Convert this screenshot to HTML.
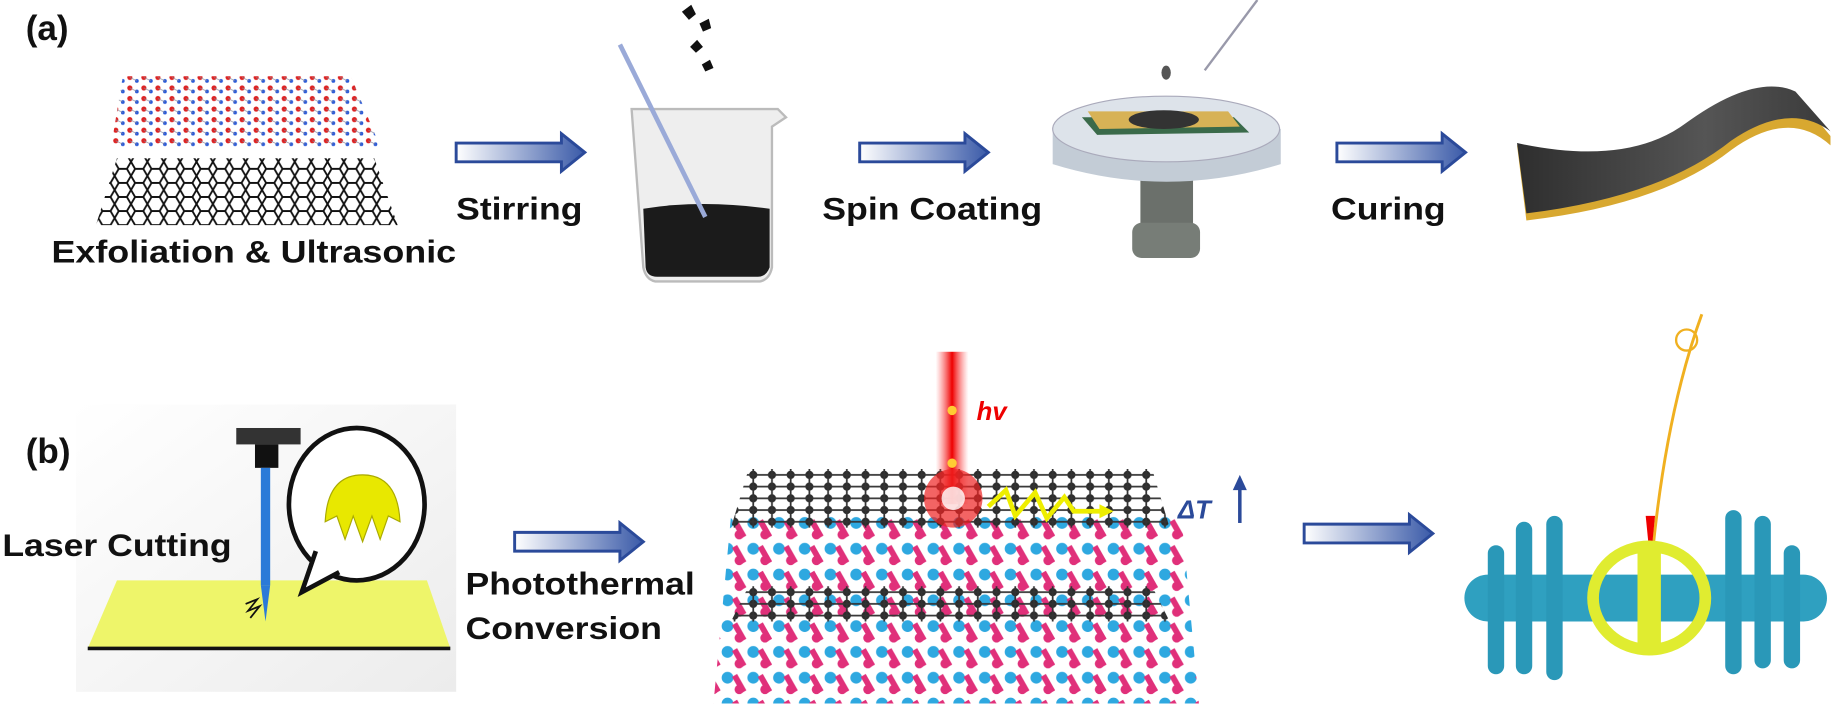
<!DOCTYPE html>
<html><head><meta charset="utf-8"><style>
html,body{margin:0;padding:0;background:#fff;width:1834px;height:727px;overflow:hidden}
svg{display:block}
text{font-family:"Liberation Sans",Arial,sans-serif;font-weight:bold;fill:#111}
</style></head><body>
<svg width="1834" height="727" viewBox="0 0 1568 620" preserveAspectRatio="none">
<defs>
<linearGradient id="ar" x1="0" x2="1"><stop offset="0" stop-color="#fff"/><stop offset="1" stop-color="#3a5aa8"/></linearGradient>
<pattern id="hex" width="14" height="12" patternUnits="userSpaceOnUse"><path d="M0 6 L3.5 0 H10.5 L14 6 L10.5 12 H3.5 Z" fill="none" stroke="#111" stroke-width="1.6"/></pattern>
<pattern id="dots" width="12" height="9" patternUnits="userSpaceOnUse"><circle cx="3" cy="3" r="2.2" fill="#d22"/><circle cx="9" cy="6" r="1.6" fill="#2a5ad8"/><path d="M3 3 L9 6" stroke="#889" stroke-width=".6"/></pattern>
<pattern id="lat" width="22" height="22" patternUnits="userSpaceOnUse"><circle cx="6" cy="6" r="5" fill="#2ea8e0"/><path d="M12 4 L20 18" stroke="#e0307a" stroke-width="5"/><circle cx="16" cy="16" r="4" fill="#e0307a"/></pattern>
<pattern id="gl" width="16" height="10" patternUnits="userSpaceOnUse"><circle cx="4" cy="5" r="3.5" fill="#2b2b2b"/><path d="M0 5 H16 M4 0 V10" stroke="#333" stroke-width="1.5"/></pattern>
<linearGradient id="beam" x1="0" x2="1"><stop offset="0" stop-color="#f55" stop-opacity="0"/><stop offset=".5" stop-color="#e00"/><stop offset="1" stop-color="#f55" stop-opacity="0"/></linearGradient>
<linearGradient id="pan" x1="0" x2="1" y1="0" y2="1"><stop offset="0" stop-color="#fff"/><stop offset="1" stop-color="#ececec"/></linearGradient>
<linearGradient id="sh" x1="0" x2="1"><stop offset="0" stop-color="#2e2e2e"/><stop offset=".6" stop-color="#555"/><stop offset="1" stop-color="#3a3a3a"/></linearGradient>
<g id="arrow"><path d="M0 -8 H90 V-16 L110 0 L90 16 V8 H0 Z" fill="url(#ar)" stroke="#2b4a9a" stroke-width="2.5"/></g>
</defs>

<text x="22" y="34" font-size="30">(a)</text>
<text x="22" y="395" font-size="30">(b)</text>

<!-- graphene -->
<path d="M105 65 L300 65 L325 125 L95 125 Z" fill="url(#dots)"/>
<path d="M100 135 L320 135 L340 192 L82 192 Z" fill="url(#hex)"/>
<text x="44" y="224" font-size="27" textLength="346" lengthAdjust="spacingAndGlyphs">Exfoliation &amp; Ultrasonic</text>

<use href="#arrow" x="390" y="130"/>
<text x="390" y="187" font-size="27" textLength="108" lengthAdjust="spacingAndGlyphs">Stirring</text>

<!-- beaker -->
<path d="M583 10 l8 -6 l4 8 l-6 5z M598 20 l8 -4 l2 8 l-7 3z M590 40 l6 -6 l5 6 l-6 5z M600 55 l7 -4 l3 7 l-7 3z" fill="#111"/>
<path d="M540 93 L665 93 L672 100 L660 108 L660 228 Q658 238 650 240 L560 240 Q552 238 550 228 Z" fill="#eee" stroke="#bbb" stroke-width="2"/>
<path d="M550 178 Q600 170 658 178 L658 228 Q655 236 648 236 L562 236 Q553 236 552 228 Z" fill="#1b1b1b"/>
<path d="M530 38 L603 185" stroke="#9aaad8" stroke-width="4"/>

<use href="#arrow" x="735" y="130"/>
<text x="703" y="187" font-size="27" textLength="188" lengthAdjust="spacingAndGlyphs">Spin Coating</text>

<!-- spin coater -->
<path d="M1075 0 L1030 60" stroke="#99a" stroke-width="2"/>
<ellipse cx="997" cy="62" rx="4" ry="6" fill="#555"/>
<ellipse cx="997" cy="88" rx="3" ry="5" fill="#555"/>
<rect x="975" y="145" width="45" height="55" fill="#6b706b"/>
<rect x="968" y="190" width="58" height="30" rx="8" fill="#777d77"/>
<path d="M900 110 L1095 110 L1095 140 Q997 170 900 140 Z" fill="#c3ccd6"/>
<ellipse cx="997" cy="110" rx="97" ry="28" fill="#dde3ea" stroke="#aab" />
<path d="M925 100 L1055 100 L1068 113 L938 115 Z" fill="#3a6a4a"/>
<path d="M930 95 L1050 95 L1060 108 L940 110 Z" fill="#d7b256"/>
<ellipse cx="995" cy="102" rx="30" ry="8" fill="#333"/>

<use href="#arrow" x="1143" y="130"/>
<text x="1138" y="187" font-size="27" textLength="98" lengthAdjust="spacingAndGlyphs">Curing</text>

<!-- sheet -->
<path d="M1297 124 Q1390 145 1440 110 Q1500 65 1535 80 L1565 116 L1565 124 Q1530 92 1480 128 Q1420 175 1305 188 Z" fill="#d8a830"/>
<path d="M1297 122 Q1390 142 1440 106 Q1500 62 1535 78 L1565 112 Q1530 86 1480 120 Q1420 168 1305 182 Z" fill="url(#sh)"/>

<!-- laser cutting panel -->
<rect x="65" y="345" width="325" height="245" fill="url(#pan)"/>
<path d="M100 495 L365 495 L385 553 L75 553 Z" fill="#eef56a"/>
<path d="M75 553 L385 553" stroke="#111" stroke-width="3"/>
<rect x="202" y="365" width="55" height="14" fill="#333"/>
<rect x="218" y="379" width="20" height="20" fill="#111"/>
<rect x="223" y="399" width="8" height="100" fill="#2a7ad8"/>
<path d="M223 499 L231 499 L227 530 Z" fill="#2a7ad8"/>
<path d="M210 515 l10 -4 l-8 10 l10 -4 l-8 10" stroke="#111" fill="none" stroke-width="1.5"/>
<ellipse cx="305" cy="430" rx="58" ry="65" fill="#fff" stroke="#111" stroke-width="4"/>
<path d="M270 470 L258 505 L290 488" fill="#fff" stroke="#111" stroke-width="4"/>
<path d="M278 445 Q280 405 310 405 Q340 405 342 445 L332 440 L325 460 L318 440 L310 462 L302 440 L295 460 L288 440 Z" fill="#e8e800" stroke="#aa0" stroke-width="1"/>
<text x="2" y="474" font-size="27" textLength="196" lengthAdjust="spacingAndGlyphs">Laser Cutting</text>

<use href="#arrow" x="440" y="462"/>
<text x="398" y="507" font-size="27" textLength="196" lengthAdjust="spacingAndGlyphs">Photothermal</text>
<text x="398" y="545" font-size="27" textLength="168" lengthAdjust="spacingAndGlyphs">Conversion</text>

<!-- lattice -->
<path d="M625 440 L1010 440 L1025 600 L610 600 Z" fill="url(#lat)"/>
<path d="M640 400 L985 400 L1000 450 L625 450 Z" fill="url(#gl)"/>
<path d="M640 500 L985 500 L1000 530 L625 530 Z" fill="url(#gl)"/>
<rect x="800" y="300" width="28" height="130" fill="url(#beam)"/>
<circle cx="815" cy="425" r="25" fill="#e22" opacity=".7"/>
<circle cx="815" cy="425" r="10" fill="#fff" opacity=".8"/>
<circle cx="814" cy="350" r="4" fill="#fc3"/><circle cx="814" cy="395" r="4" fill="#fc3"/>
<text x="835" y="358" font-size="22" font-style="italic" font-family="Liberation Serif,serif" style="fill:#e00">hv</text>
<path d="M845 432 L860 418 L868 440 L885 420 L895 442 L910 424 L918 436 L945 436" stroke="#ee0" stroke-width="4" fill="none"/>
<path d="M940 430 L952 436 L940 442 Z" fill="#ee0"/>
<text x="1007" y="442" font-size="22" font-style="italic" style="fill:#2b4a9a">ΔT</text>
<path d="M1060 446 V414" stroke="#2b4a9a" stroke-width="3"/><path d="M1054 418 L1060 405 L1066 418 Z" fill="#2b4a9a"/>

<use href="#arrow" x="1115" y="455"/>

<!-- dumbbell -->
<path d="M1455 268 Q1425 350 1413 470" stroke="#f0b020" stroke-width="2.5" fill="none"/>
<circle cx="1442" cy="290" r="9" fill="none" stroke="#f0b020" stroke-width="2"/>
<path d="M1407 440 L1415 440 L1411 480 Z" fill="#e00"/>
<rect x="1252" y="490" width="310" height="40" rx="20" fill="#2fa0c0"/>
<rect x="1272" y="465" width="14" height="110" rx="7" fill="#2a98b8"/>
<rect x="1296" y="445" width="14" height="130" rx="7" fill="#2a98b8"/>
<rect x="1322" y="440" width="14" height="140" rx="7" fill="#2a98b8"/>
<rect x="1475" y="435" width="14" height="140" rx="7" fill="#2a98b8"/>
<rect x="1500" y="440" width="14" height="130" rx="7" fill="#2a98b8"/>
<rect x="1525" y="465" width="14" height="105" rx="7" fill="#2a98b8"/>
<ellipse cx="1410" cy="510" rx="48" ry="44" fill="none" stroke="#e0ec30" stroke-width="10"/>
<rect x="1400" y="470" width="20" height="85" fill="#e0ec30"/>
</svg>
</body></html>
